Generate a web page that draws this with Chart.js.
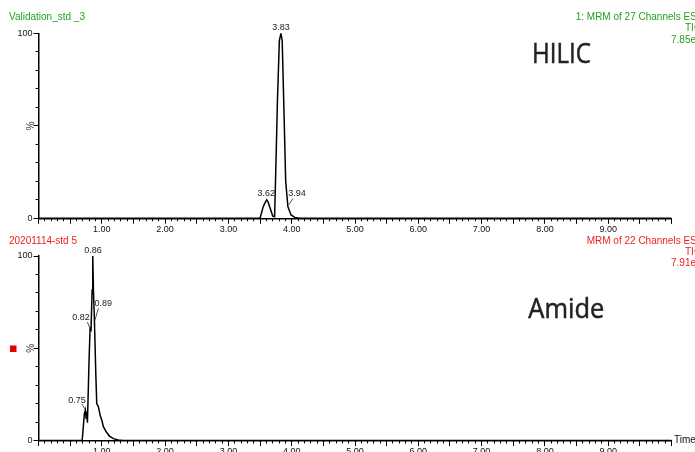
<!DOCTYPE html>
<html>
<head>
<meta charset="utf-8">
<script src="https://cdn.jsdelivr.net/npm/chart.js@4.4.1/dist/chart.umd.min.js"></script>
<style>
  html, body { margin: 0; padding: 0; background: #fff; }
  #wrap { position: relative; width: 695px; height: 452px; overflow: hidden; }
  #wrap canvas { position: absolute; left: 0; top: 0; }
</style>
</head>
<body>
<div id="wrap">
  <canvas id="hilic" width="695" height="452"></canvas>
  <canvas id="amide" width="695" height="452"></canvas>
</div>
<script>
// HILIC trace: retention time (min) and % of base peak
const hilicTime = [0, 3.50, 3.55, 3.58, 3.605, 3.625, 3.66, 3.70, 3.73, 3.75, 3.775, 3.805, 3.83, 3.85, 3.88, 3.905, 3.92, 3.94, 3.96, 3.99, 4.05, 4.13, 10]
const hilicPct = [0, 0, 6.3, 8.5, 10, 9, 5.4, 1.2, 0.9, 28, 64, 96, 100, 96, 55, 20, 14, 6.3, 4.5, 1.8, 0.5, 0, 0]
const hilicPeaks = [3.62, 3.83, 3.94]
const hilicPeakPct = [10, 100, 6.3]

// Amide trace
const amideTime = [0, 0.69, 0.725, 0.741, 0.752, 0.763, 0.773, 0.80, 0.815, 0.83, 0.847, 0.857, 0.868, 0.884, 0.905, 0.92, 0.946, 0.973, 1.0, 1.025, 1.068, 1.12, 1.183, 1.26, 1.34, 10]
const amidePct = [0, 0, 14.7, 16.5, 12, 15.6, 9.6, 45, 60.8, 60, 81.6, 100, 81.6, 64.4, 36.4, 20, 18.3, 13.8, 11, 7.5, 4.8, 2.4, 1, 0.3, 0, 0]
const amidePeaks = [0.75, 0.82, 0.86, 0.89]
const amidePeakPct = [16.5, 61, 100, 64]

// axis ranges / ticks
const timeRange = [0, 10]
const pctRange = [0, 100]
const timeLabels = [1, 2, 3, 4, 5, 6, 7, 8, 9]
const pctLabels = [0, 100]

const FONT = "'Liberation Sans', Arial, sans-serif"
const GREEN = "#22a022"
const RED = "#ee2020"

// label offsets from the peak apex: [dx, dy, leader x1, y1, x2, y2]
const hilicLabelPos = [
  [-1.5, -6, null],
  [0, -5.5, null],
  [9, -13, [1, -2, 5, -8]],
]
const amideLabelPos = [
  [-9, -10, [-1, -1, -4, -6]],
  [-9.5, -10, [-1, -1, -3, -6]],
  [0, -5.5, null],
  [8.5, -19, [0, -2, 3.5, -14]],
]

function xy(times, vals) {
  return times.map((t, i) => ({ x: t, y: vals[i] }))
}

// overlay text: titles, peak labels, % sign, big method name
const annotate = {
  id: "annotate",
  afterDraw(chart, args, o) {
    const ctx = chart.ctx
    const xs = chart.scales.x
    const ys = chart.scales.y
    ctx.save()
    ctx.textBaseline = "middle"

    // sample name & channel info
    ctx.font = "10px " + FONT
    ctx.fillStyle = o.color
    ctx.textAlign = "left"
    ctx.fillText(o.sample, 9, o.titleY)
    ctx.fillText(o.channel, o.channelX, o.titleY)
    ctx.fillText("TIC", 685, o.titleY + 11)
    ctx.fillText(o.intensity, 671, o.titleY + 22.5)

    // rotated %
    ctx.fillStyle = "#333"
    ctx.save()
    ctx.translate(31, ys.getPixelForValue(50))
    ctx.rotate(-Math.PI / 2)
    ctx.textAlign = "center"
    ctx.fillText("%", 0, 0)
    ctx.restore()

    // peak labels
    ctx.font = "9px " + FONT
    ctx.fillStyle = "#222"
    ctx.strokeStyle = "#222"
    ctx.lineWidth = 0.8
    ctx.textAlign = "center"
    o.peaks.forEach((t, i) => {
      const px = xs.getPixelForValue(t)
      const py = ys.getPixelForValue(o.peakPct[i])
      const p = o.pos[i]
      ctx.fillText(t.toFixed(2), px + p[0], py + p[1])
      if (p[2]) {
        ctx.beginPath()
        ctx.moveTo(px + p[2][0], py + p[2][1])
        ctx.lineTo(px + p[2][2], py + p[2][3])
        ctx.stroke()
      }
    })

    // big method label
    ctx.font = "27px 'Open Sans', sans-serif"
    ctx.fillStyle = "#222"
    ctx.strokeStyle = "#222"
    ctx.lineWidth = 0.5
    ctx.textAlign = "left"
    ctx.textBaseline = "alphabetic"
    const w = ctx.measureText(o.method).width
    ctx.save()
    ctx.translate(o.methodX, o.methodY)
    ctx.scale(o.methodW / w, 1)
    ctx.fillText(o.method, 0, 0)
    ctx.strokeText(o.method, 0, 0)
    ctx.restore()

    if (o.marker) {
      ctx.fillStyle = "#e00000"
      ctx.fillRect(10, 345.5, 6.5, 6.5)
    }
    if (o.timeLabel) {
      ctx.font = "10px " + FONT
      ctx.fillStyle = "#111"
      ctx.textBaseline = "middle"
      ctx.fillText("Time", 674, xs.top)
    }
    ctx.restore()
  },
}

function makeChart(id, times, vals, area, ann) {
  const canvas = document.getElementById(id)
  return new Chart(canvas.getContext("2d"), {
    type: "line",
    data: {
      datasets: [{
        data: xy(times, vals),
        borderColor: "#000",
        borderWidth: 1.5,
        pointRadius: 0,
        tension: 0,
        fill: false,
        xAxisID: "x",
        yAxisID: "y",
      }],
    },
    options: {
      responsive: false,
      animation: false,
      devicePixelRatio: 1,
      layout: {
        padding: { left: 0, top: area.top, right: 695 - area.right, bottom: 452 - area.bottom - area.xh },
      },
      plugins: {
        legend: { display: false },
        tooltip: { enabled: false },
        annotate: ann,
      },
      scales: {
        x: {
          type: "linear",
          position: "bottom",
          weight: 1,
          min: timeRange[0],
          max: timeRange[1],
          afterFit(s) { s.height = area.xh },
          border: { display: true, color: "#000", width: 1.5 },
          grid: { drawOnChartArea: false, drawTicks: true, tickLength: 5.5, color: "#000", tickWidth: 1 },
          ticks: {
            stepSize: 0.5,
            autoSkip: false,
            maxTicksLimit: 100,
            maxRotation: 0,
            padding: 0,
            color: "#111",
            font: { family: FONT, size: 9 },
            callback: (v) => (timeLabels.includes(v) ? v.toFixed(2) : ""),
          },
        },
        xMinor: {
          type: "linear",
          position: "bottom",
          weight: 0,
          min: timeRange[0],
          max: timeRange[1],
          afterFit(s) { s.height = 0 },
          border: { display: false },
          grid: { drawOnChartArea: false, drawTicks: true, tickLength: 3, color: "#000", tickWidth: 1 },
          ticks: { display: false, stepSize: 0.1, autoSkip: false, maxTicksLimit: 200 },
        },
        y: {
          type: "linear",
          position: "left",
          weight: 1,
          min: pctRange[0],
          max: pctRange[1],
          afterFit(s) { s.width = area.left },
          border: { display: true, color: "#000", width: 1.5 },
          grid: { drawOnChartArea: false, drawTicks: true, tickLength: 5, color: "#000", tickWidth: 1 },
          ticks: {
            stepSize: 50,
            padding: 1,
            color: "#111",
            font: { family: FONT, size: 9 },
            callback: (v) => (pctLabels.includes(v) ? String(v) : ""),
          },
        },
        yMinor: {
          type: "linear",
          position: "left",
          weight: 0,
          min: pctRange[0],
          max: pctRange[1],
          afterFit(s) { s.width = 0 },
          border: { display: false },
          grid: { drawOnChartArea: false, drawTicks: true, tickLength: 3, color: "#000", tickWidth: 1 },
          ticks: { display: false, stepSize: 10 },
        },
      },
    },
    plugins: [annotate],
  })
}

makeChart("hilic", hilicTime, hilicPct, { left: 38.5, right: 671.5, top: 33.3, bottom: 218.3, xh: 20 }, {
  sample: "Validation_std _3",
  channel: "1: MRM of 27 Channels ES+",
  channelX: 575.7,
  intensity: "7.85e7",
  titleY: 17.5,
  color: GREEN,
  peaks: hilicPeaks,
  peakPct: hilicPeakPct,
  pos: hilicLabelPos,
  method: "HILIC",
  methodX: 532,
  methodY: 63.3,
  methodW: 59,
  marker: false,
  timeLabel: false,
})

makeChart("amide", amideTime, amidePct, { left: 38.5, right: 671.5, top: 256, bottom: 440.5, xh: 11.5 }, {
  sample: "20201114-std 5",
  channel: "MRM of 22 Channels ES+",
  channelX: 586.7,
  intensity: "7.91e7",
  titleY: 241,
  color: RED,
  peaks: amidePeaks,
  peakPct: amidePeakPct,
  pos: amideLabelPos,
  method: "Amide",
  methodX: 528.3,
  methodY: 318.3,
  methodW: 76,
  marker: true,
  timeLabel: true,
})
</script>
</body>
</html>
